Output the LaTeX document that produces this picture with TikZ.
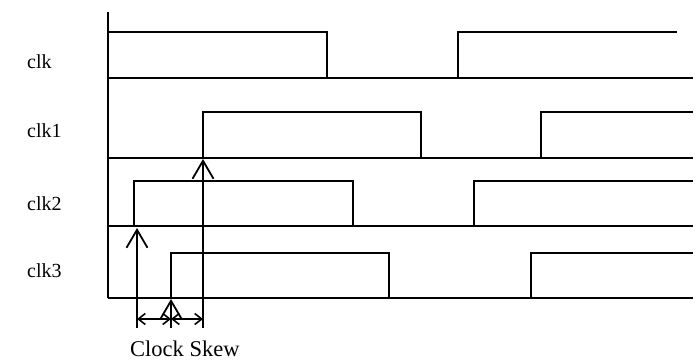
\documentclass[tikz,border=0pt]{standalone}
\usepackage{fontspec}
\setmainfont{Liberation Serif}
\usetikzlibrary{arrows.meta}
\begin{document}
\begin{tikzpicture}[x=1pt,y=-1pt,
  wave/.style={line width=1.7pt, line join=miter},
  lbl/.style={anchor=base west, inner sep=0pt, font=\fontsize{20}{22}\selectfont},
  edgearrow/.style={line width=1.8pt, -{Straight Barb[length=18pt,width=21pt,line width=1.8pt]}},
  skew/.style={line width=1.6pt, {Straight Barb[length=7pt,width=11pt,line width=1.6pt]}-{Straight Barb[length=7pt,width=11pt,line width=1.6pt]}}]
  \useasboundingbox (0,0) rectangle (699,363);

  % signal names
  \node[lbl] (nclk)  at (27,69)  {clk};
  \node[lbl] (nclk1) at (27,138) {clk1};
  \node[lbl] (nclk2) at (27,211) {clk2};
  \node[lbl] (nclk3) at (27,278) {clk3};

  % time axis
  \draw[wave] (108,12) -- (108,298);

  % baselines of the four traces
  \foreach \y in {78,158,226,298} \draw[wave] (108,\y) -- (693,\y);

  % clk
  \draw[wave] (108,32) -- (327,32) -- (327,78);
  \draw[wave] (458,78) -- (458,32) -- (677,32);
  % clk1
  \draw[wave] (203,158) -- (203,112) -- (421,112) -- (421,158);
  \draw[wave] (541,158) -- (541,112) -- (693,112);
  % clk2
  \draw[wave] (134,226) -- (134,181) -- (353,181) -- (353,226);
  \draw[wave] (474,226) -- (474,181) -- (693,181);
  % clk3
  \draw[wave] (171,298) -- (171,253) -- (389,253) -- (389,298);
  \draw[wave] (531,298) -- (531,253) -- (693,253);

  % rising-edge markers
  \coordinate (b2) at (137,328);  \coordinate (t2) at (137,228);
  \coordinate (b3) at (171,328);  \coordinate (t3) at (171,299);
  \coordinate (b1) at (203,328);  \coordinate (t1) at (203,159);
  \draw[edgearrow] (b2) -- (t2);
  \draw[edgearrow] (b3) -- (t3);
  \draw[edgearrow] (b1) -- (t1);

  % skew spans between the edges
  \coordinate (s2) at (137,319);
  \coordinate (s3) at (171,319);
  \coordinate (s1) at (203,319);
  \draw[skew] (s2) -- (s3);
  \draw[skew] (s3) -- (s1);

  \node[anchor=base west, inner sep=0pt, font=\fontsize{22.5}{24}\selectfont] (skewlbl) at (130,356) {Clock Skew};
\end{tikzpicture}
\end{document}
